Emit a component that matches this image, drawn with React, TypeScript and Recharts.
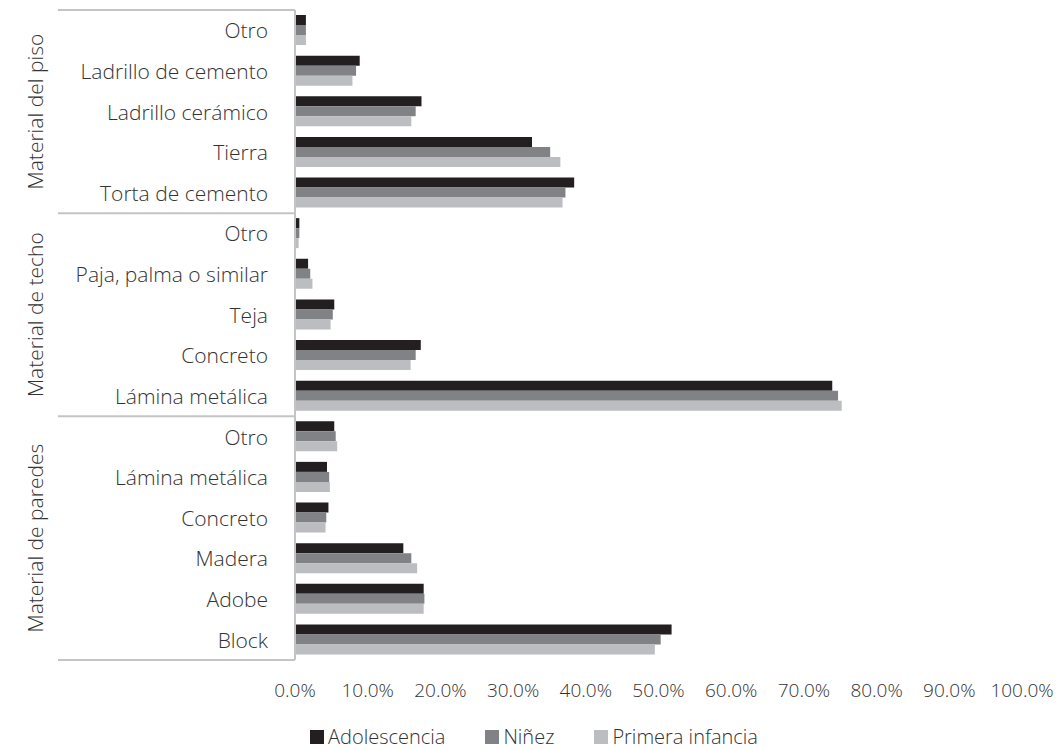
import React from 'react';
import { BarChart, Bar, XAxis, YAxis } from 'recharts';

// top to bottom, as drawn
const categories = [
  'Otro', 'Ladrillo de cemento', 'Ladrillo cerámico', 'Tierra', 'Torta de cemento',
  'Otro', 'Paja, palma o similar', 'Teja', 'Concreto', 'Lámina metálica',
  'Otro', 'Lámina metálica', 'Concreto', 'Madera', 'Adobe', 'Block',
];
const groupLabels = ['Material del piso', 'Material de techo', 'Material de paredes'];
const groupSizes = [5, 5, 6];

const adolescencia = [1.5, 8.9, 17.4, 32.6, 38.4, 0.6, 1.8, 5.4, 17.3, 73.9, 5.4, 4.4, 4.6, 14.9, 17.7, 51.8];
const ninez = [1.5, 8.4, 16.6, 35.1, 37.2, 0.6, 2.1, 5.2, 16.6, 74.7, 5.6, 4.7, 4.3, 16.0, 17.8, 50.3];
const primeraInfancia = [1.5, 7.9, 16.0, 36.5, 36.8, 0.5, 2.4, 4.9, 15.9, 75.2, 5.8, 4.8, 4.2, 16.8, 17.7, 49.5];

const xTicks = [0, 10, 20, 30, 40, 50, 60, 70, 80, 90, 100];

const SERIES = [
  { key: 'adolescencia', name: 'Adolescencia', color: '#231f20' },
  { key: 'ninez', name: 'Niñez', color: '#818285' },
  { key: 'primera', name: 'Primera infancia', color: '#bcbdc0' },
];

const FONT = '"Open Sans", Lato, sans-serif';
const TEXT = '#333333';
const LINE = '#c4c4c4';

const data = categories.map((c, i) => ({
  id: String(i),
  adolescencia: adolescencia[i],
  ninez: ninez[i],
  primera: primeraInfancia[i],
}));

// index where each group starts
const groupStarts = groupSizes.map((_, g) => groupSizes.slice(0, g).reduce((a, b) => a + b, 0));

const CategoryTick = (props: any) => {
  const { x, y, index, payload } = props;
  const half = payload?.offset ?? 20;
  const g = groupStarts.indexOf(index);
  const isLast = index === categories.length - 1;
  return (
    <g>
      <text x={x - 27} y={y} textAnchor="end" dominantBaseline="central"
        fontFamily={FONT} fontWeight={300} fontSize={21} fill={TEXT}>
        {categories[index]}
      </text>
      {g >= 0 && (
        <>
          <line x1={58} x2={x} y1={y - half} y2={y - half} stroke={LINE} strokeWidth={2} />
          <text
            x={35}
            y={y - half + groupSizes[g] * half}
            transform={`rotate(-90, 35, ${y - half + groupSizes[g] * half})`}
            textAnchor="middle" dominantBaseline="central"
            fontFamily={FONT} fontWeight={300} fontSize={21} fill={TEXT}>
            {groupLabels[g]}
          </text>
        </>
      )}
      {isLast && <line x1={58} x2={x} y1={y + half} y2={y + half} stroke={LINE} strokeWidth={2} />}
    </g>
  );
};

const ValueTick = (props: any) => {
  const { x, y, payload } = props;
  return (
    <text x={x} y={y + 30} textAnchor="middle" dominantBaseline="central"
      fontFamily={FONT} fontWeight={300} fontSize={19} fill={TEXT}>
      {`${Number(payload.value).toFixed(1)}%`}
    </text>
  );
};

export default function App() {
  return (
    <div style={{ position: 'relative', width: 1062, height: 750, overflow: 'hidden' }}>
      <style>{'body { margin: 0; background: #fff; }'}</style>
      <BarChart
        width={1062}
        height={750}
        data={data}
        layout="vertical"
        margin={{ top: 10, right: 40, bottom: 60, left: 0 }}
        barCategoryGap={5}
        barGap={0}
      >
        <XAxis type="number" domain={[0, 100]} ticks={xTicks} axisLine={false} tickLine={false}
          height={30} tickSize={0} tickMargin={0} tick={<ValueTick />} interval={0} />
        <YAxis type="category" dataKey="id" width={295} axisLine={{ stroke: LINE, strokeWidth: 2 }}
          tickLine={false} tickSize={0} tickMargin={0} tick={<CategoryTick />} interval={0} />
        {SERIES.map(s => (
          <Bar key={s.key} dataKey={s.key} name={s.name} fill={s.color} isAnimationActive={false} />
        ))}
      </BarChart>
      <div style={{
        position: 'absolute', top: 724, left: 0, width: 1062, height: 25, display: 'flex', justifyContent: 'center',
        alignItems: 'center', gap: 40, fontFamily: FONT, fontWeight: 300, fontSize: 20, color: TEXT,
        lineHeight: '25px', paddingLeft: 6, boxSizing: 'border-box',
      }}>
        {SERIES.map(s => (
          <div key={s.key} style={{ display: 'flex', alignItems: 'center', gap: 4 }}>
            <div style={{ width: 14, height: 14, backgroundColor: s.color }} />
            <span>{s.name}</span>
          </div>
        ))}
      </div>
    </div>
  );
}
